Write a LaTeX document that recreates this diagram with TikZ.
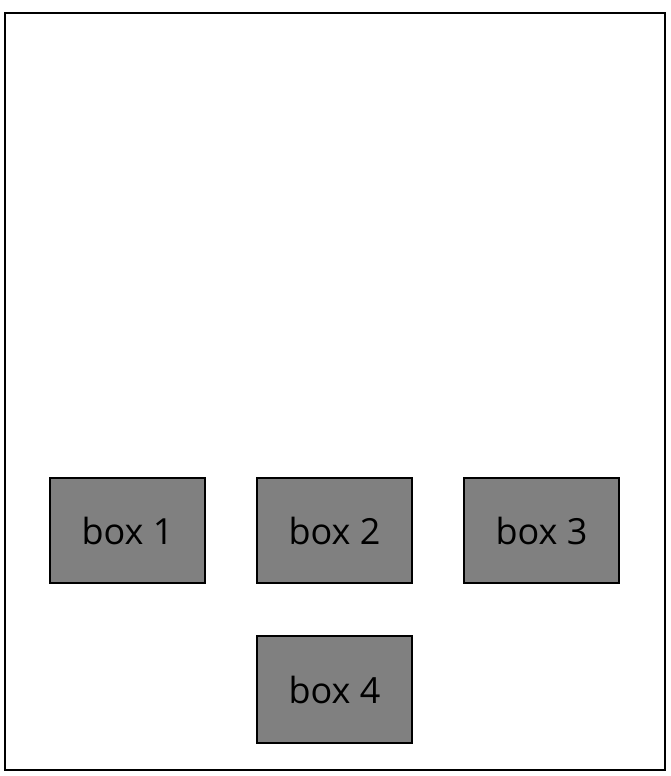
\documentclass[tikz,border=0pt]{standalone}
\usepackage{fontspec}
\setmainfont{Open Sans}
\begin{document}
\begin{tikzpicture}[x=1pt,y=-1pt,
  boxstyle/.style={draw=black,line width=1.5pt,fill=gray,minimum width=155pt,minimum height=105pt,inner sep=0pt,font=\fontsize{36}{40}\selectfont}]
\useasboundingbox (0,0) rectangle (671,776);
\draw[line width=1.5pt] (5,13) rectangle (665,770);
\node[boxstyle] (b1) at (127.5,530.5) {box 1};
\node[boxstyle] (b2) at (334.5,530.5) {box 2};
\node[boxstyle] (b3) at (541.5,530.5) {box 3};
\node[boxstyle,minimum height=107pt] (b4) at (334.5,689.5) {box 4};
\end{tikzpicture}
\end{document}
